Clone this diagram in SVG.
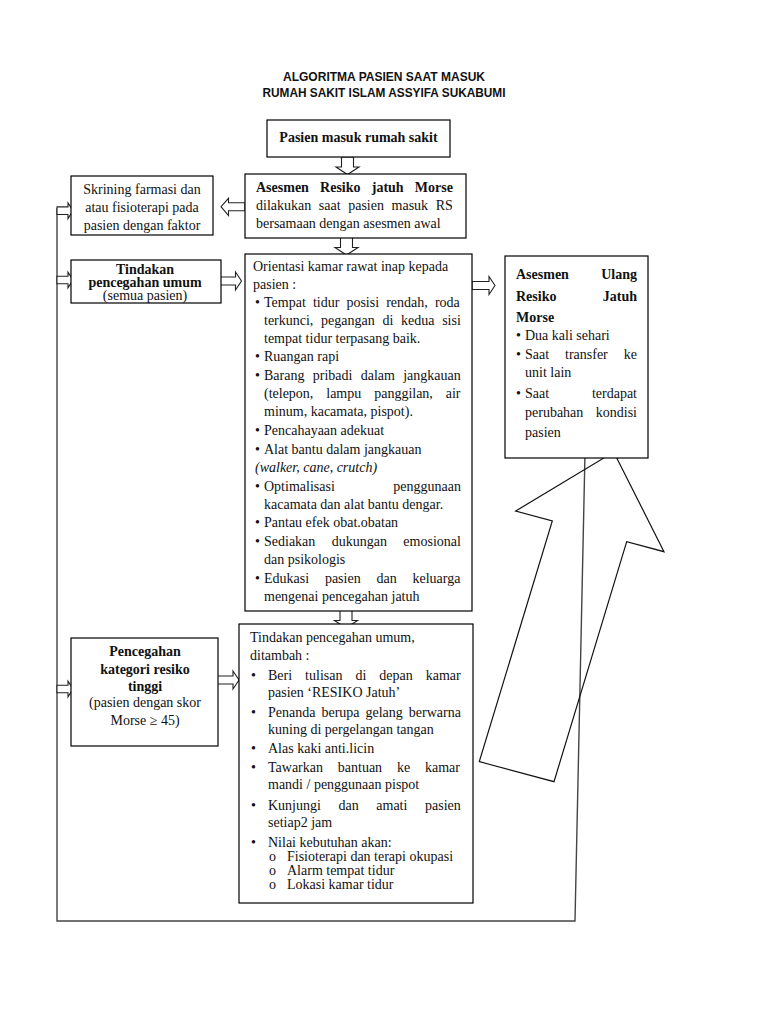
<svg xmlns="http://www.w3.org/2000/svg" xmlns:xlink="http://www.w3.org/1999/xlink" width="768" height="1024" viewBox="0 0 768 1024">
<style>
.box{fill:#fff;stroke:#000;stroke-width:1.2}
.t{font-family:"Liberation Serif","Times New Roman",serif;font-size:14px;fill:#111}
.b{font-weight:bold}
.c{text-anchor:middle}
.e{text-anchor:end}
.ttl{font-family:"Liberation Sans",Arial,sans-serif;font-size:12.5px;font-weight:bold;fill:#111;text-anchor:middle}
.arr{fill:#fff;stroke:#222;stroke-width:1.1}
.ln{fill:none;stroke:#444;stroke-width:1.4}
.big{fill:none;stroke:#111;stroke-width:1.2}
</style>
<defs>
<polygon id="ar" class="arr" points="0,-3.8 11,-3.8 11,-7.8 16,0 11,7.8 11,3.8 0,3.8"/>
<polygon id="arm" class="arr" points="0,-4 17,-4 17,-9 23,0 17,9 17,4 0,4"/>
<polygon id="ard" class="arr" points="-6,0 6,0 6,10 11.5,10 0,17.5 -11.5,10 -6,10"/>
</defs>
<rect width="768" height="1024" fill="#fff"/>

<g id="title">
<text class="ttl" x="384" y="81" textLength="202" lengthAdjust="spacingAndGlyphs">ALGORITMA PASIEN SAAT MASUK</text>
<text class="ttl" x="384" y="97" textLength="243" lengthAdjust="spacingAndGlyphs">RUMAH SAKIT ISLAM ASSYIFA SUKABUMI</text>
</g>

<g id="connectors">
<polyline class="ln" points="57,208 57,921 575,921 585,453"/>
<use xlink:href="#ar" transform="translate(57,210.7)"/>
<use xlink:href="#ar" transform="translate(57,280)"/>
<use xlink:href="#ar" transform="translate(57,689)"/>
<use xlink:href="#ard" transform="translate(347.5,157)"/>
<use xlink:href="#ard" transform="translate(346.5,237.5)"/>
<use xlink:href="#ard" transform="translate(346,610.5)"/>
<polygon class="arr" points="245,202.7 228.5,202.7 228.5,198.3 221,206.7 228.5,215.5 228.5,210.7 245,210.7"/>
<use xlink:href="#arm" transform="translate(218.5,281)"/>
<use xlink:href="#arm" transform="translate(472,285.5)"/>
<use xlink:href="#arm" transform="translate(216,680)"/>
<polygon class="big" points="613.7,452 664,551.7 626.7,541.7 554,781.7 479.3,761.7 552.3,521 515.7,511"/>
</g>

<g id="pasien">
<rect class="box" x="267" y="120" width="183" height="37"/>
<text class="t b c" x="358.5" y="142">Pasien masuk rumah sakit</text>
</g>

<g id="asesmen">
<rect class="box" x="245" y="174" width="221" height="64"/>
<text class="t b" x="256" y="192" word-spacing="7.7">Asesmen Resiko jatuh Morse</text>
<text class="t" x="256" y="210" word-spacing="4.1">dilakukan saat pasien masuk RS</text>
<text class="t" x="256" y="228">bersamaan dengan asesmen awal</text>
</g>

<g id="skrining">
<rect class="box" x="71" y="176" width="142" height="59"/>
<text class="t c" x="142" y="194">Skrining farmasi dan</text>
<text class="t c" x="142" y="212">atau fisioterapi pada</text>
<text class="t c" x="142" y="230">pasien dengan faktor</text>
</g>

<g id="tindakan">
<rect class="box" x="71" y="260" width="150" height="43"/>
<text class="t b c" x="145" y="274">Tindakan</text>
<text class="t b c" x="145" y="287">pencegahan umum</text>
<text class="t c" x="145" y="300">(semua pasien)</text>
</g>

<g id="orientasi">
<rect class="box" x="245" y="254" width="227" height="357"/>
<text class="t" x="253" y="271">Orientasi kamar rawat inap kepada</text>
<text class="t" x="253" y="289">pasien :</text>
<text class="t" x="255" y="307">•</text><text class="t" x="264" y="307" word-spacing="3.6">Tempat tidur posisi rendah, roda</text>
<text class="t" x="264" y="325" word-spacing="4.2">terkunci, pegangan di kedua sisi</text>
<text class="t" x="264" y="343">tempat tidur terpasang baik.</text>
<text class="t" x="255" y="361">•</text><text class="t" x="264" y="361">Ruangan rapi</text>
<text class="t" x="255" y="380">•</text><text class="t" x="264" y="380" word-spacing="4.8">Barang pribadi dalam jangkauan</text>
<text class="t" x="264" y="398" word-spacing="9.4">(telepon, lampu panggilan, air</text>
<text class="t" x="264" y="416">minum, kacamata, pispot).</text>
<text class="t" x="255" y="435">•</text><text class="t" x="264" y="435">Pencahayaan adekuat</text>
<text class="t" x="255" y="454">•</text><text class="t" x="264" y="454">Alat bantu dalam jangkauan</text>
<text class="t" x="255" y="472" font-style="italic">(walker, cane, crutch)</text>
<text class="t" x="255" y="491">•</text><text class="t" x="264" y="491">Optimalisasi</text><text class="t e" x="461" y="491">penggunaan</text>
<text class="t" x="264" y="509">kacamata dan alat bantu dengar.</text>
<text class="t" x="255" y="527">•</text><text class="t" x="264" y="527">Pantau efek obat.obatan</text>
<text class="t" x="255" y="546">•</text><text class="t" x="264" y="546" word-spacing="12.9">Sediakan dukungan emosional</text>
<text class="t" x="264" y="564">dan psikologis</text>
<text class="t" x="255" y="583">•</text><text class="t" x="264" y="583" word-spacing="12.3">Edukasi pasien dan keluarga</text>
<text class="t" x="264" y="601">mengenai pencegahan jatuh</text>
</g>

<g id="ulang">
<rect class="box" x="505" y="256" width="143" height="202"/>
<text class="t b" x="516" y="279">Asesmen</text><text class="t b e" x="637" y="279">Ulang</text>
<text class="t b" x="516" y="301">Resiko</text><text class="t b e" x="637" y="301">Jatuh</text>
<text class="t b" x="516" y="322">Morse</text>
<text class="t" x="516" y="340">•</text><text class="t" x="525" y="340">Dua kali sehari</text>
<text class="t" x="516" y="359">•</text><text class="t" x="525" y="359" word-spacing="12.4">Saat transfer ke</text>
<text class="t" x="525" y="377">unit lain</text>
<text class="t" x="516" y="398">•</text><text class="t" x="525" y="398">Saat</text><text class="t e" x="637" y="398">terdapat</text>
<text class="t" x="525" y="417">perubahan</text><text class="t e" x="637" y="417">kondisi</text>
<text class="t" x="525" y="437">pasien</text>
</g>

<g id="pencegahan">
<rect class="box" x="71" y="638" width="147" height="108"/>
<text class="t b c" x="145" y="656">Pencegahan</text>
<text class="t b c" x="145" y="674">kategori resiko</text>
<text class="t b c" x="145" y="691">tinggi</text>
<text class="t c" x="145" y="707">(pasien dengan skor</text>
<text class="t c" x="145" y="725">Morse ≥ 45)</text>
</g>

<g id="tinggi">
<rect class="box" x="239" y="624" width="234" height="279"/>
<text class="t" x="250" y="642">Tindakan pencegahan umum,</text>
<text class="t" x="250" y="660">ditambah :</text>
<text class="t" x="251" y="680">•</text><text class="t" x="268" y="680" word-spacing="9.5">Beri tulisan di depan kamar</text>
<text class="t" x="268" y="697">pasien ‘RESIKO Jatuh’</text>
<text class="t" x="251" y="717">•</text><text class="t" x="268" y="717" word-spacing="2.5">Penanda berupa gelang berwarna</text>
<text class="t" x="268" y="734">kuning di pergelangan tangan</text>
<text class="t" x="251" y="753">•</text><text class="t" x="268" y="753">Alas kaki anti.licin</text>
<text class="t" x="251" y="772">•</text><text class="t" x="268" y="772" word-spacing="11.3">Tawarkan bantuan ke kamar</text>
<text class="t" x="268" y="789">mandi / penggunaan pispot</text>
<text class="t" x="251" y="810">•</text><text class="t" x="268" y="810" word-spacing="14.1">Kunjungi dan amati pasien</text>
<text class="t" x="268" y="827">setiap2 jam</text>
<text class="t" x="251" y="847">•</text><text class="t" x="268" y="847">Nilai kebutuhan akan:</text>
<text class="t" x="269" y="861">o</text><text class="t" x="287" y="861">Fisioterapi dan terapi okupasi</text>
<text class="t" x="269" y="875">o</text><text class="t" x="287" y="875">Alarm tempat tidur</text>
<text class="t" x="269" y="889">o</text><text class="t" x="287" y="889">Lokasi kamar tidur</text>
</g>
</svg>
